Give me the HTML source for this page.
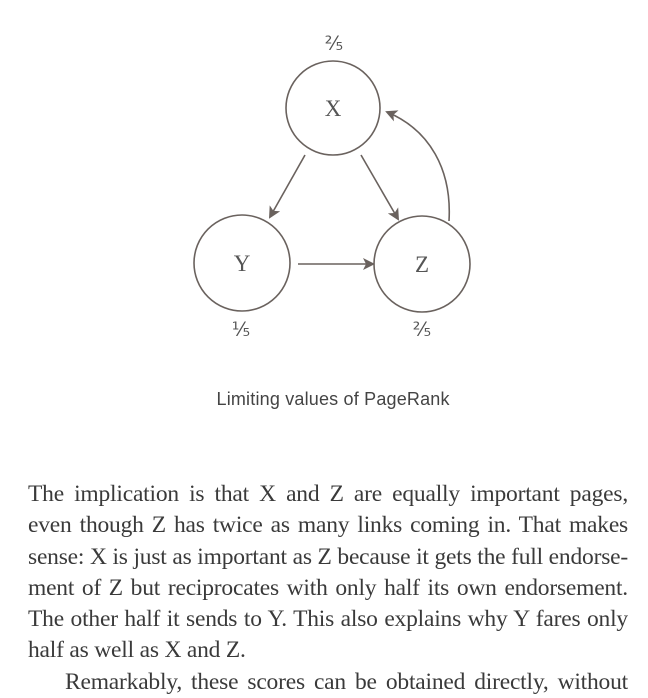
<!DOCTYPE html>
<html><head><style>
body{margin:0;width:648px;height:688px;overflow:hidden;background:#fff;position:relative;}
svg{position:absolute;left:0;top:0}
.t{position:absolute;left:28px;width:600px;font-family:"Liberation Serif",serif;font-size:23.5px;line-height:31.3px;color:#3a3a3a;text-align:justify;text-align-last:justify;top:479px;letter-spacing:-0.2px}
.t span{display:block;white-space:nowrap}
</style></head><body>
<svg width="648" height="688">
<defs><marker id="a" markerWidth="12" markerHeight="12" refX="10" refY="6" orient="auto" markerUnits="userSpaceOnUse"><path d="M0,0 L12,6 L0,12 L3,6z" fill="#6a625e"/></marker></defs>
<g fill="none" stroke="#6a625e" stroke-width="1.6">
<circle cx="333" cy="108" r="47"/>
<circle cx="242" cy="263" r="48"/>
<circle cx="422" cy="264" r="48"/>
<line x1="305" y1="155" x2="270" y2="217" marker-end="url(#a)"/>
<line x1="361" y1="155" x2="398" y2="219" marker-end="url(#a)"/>
<line x1="298" y1="264" x2="373" y2="264" marker-end="url(#a)"/>
<path d="M449 221 C452 170 430 130 387 112" marker-end="url(#a)"/>
</g>
<g font-family="Liberation Serif,serif" fill="#555" text-anchor="middle">
<text x="333" y="116" font-size="23">X</text>
<text x="242" y="271" font-size="23">Y</text>
<text x="422" y="272" font-size="23">Z</text>
<text x="334" y="50" font-size="19">⅖</text>
<text x="241" y="336" font-size="19">⅕</text>
<text x="422" y="336" font-size="19">⅖</text>
</g>
<text x="333" y="405" font-family="Liberation Sans,sans-serif" font-size="18" fill="#444" text-anchor="middle" textLength="233">Limiting values of PageRank</text>
</svg>
<div class="t">
<span>The implication is that X and Z are equally important pages,</span>
<span>even though Z has twice as many links coming in. That makes</span>
<span>sense: X is just as important as Z because it gets the full endorse-</span>
<span>ment of Z but reciprocates with only half its own endorsement.</span>
<span>The other half it sends to Y. This also explains why Y fares only</span>
<span style="text-align-last:left">half as well as X and Z.</span>
<span style="padding-left:37px">Remarkably, these scores can be obtained directly, without</span>
</div>
</body></html>
